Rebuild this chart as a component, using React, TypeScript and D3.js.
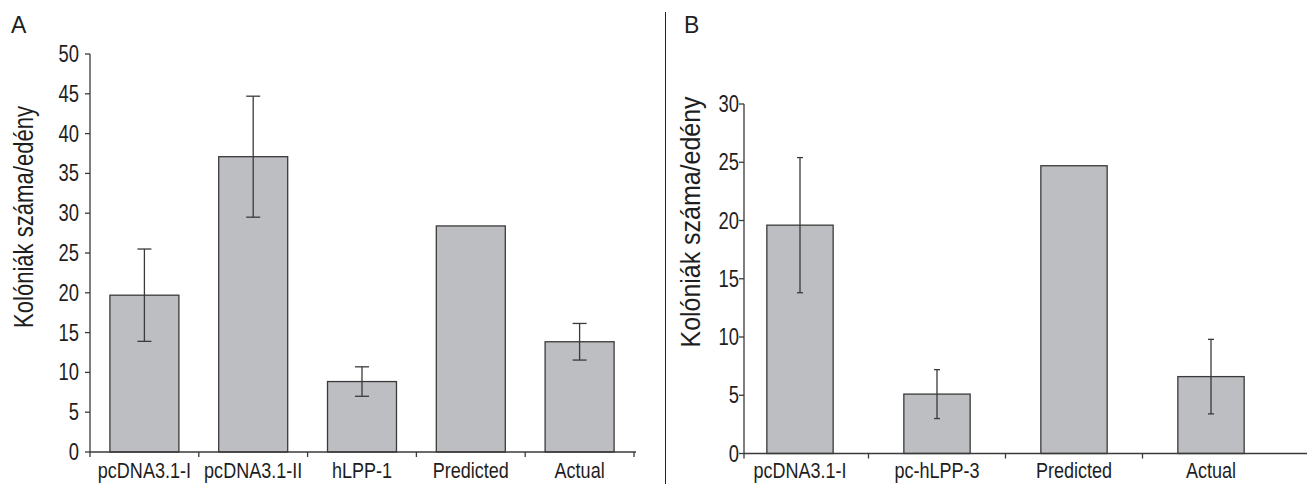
import React from "react";
import * as d3 from "d3";

const catsA = ["pcDNA3.1-I", "pcDNA3.1-II", "hLPP-1", "Predicted", "Actual"];
const valsA = [19.7, 37.1, 8.85, 28.4, 13.85];
const errA = [5.8, 7.6, 1.85, 0, 2.3];
const ticksA = [0, 5, 10, 15, 20, 25, 30, 35, 40, 45, 50];

const catsB = ["pcDNA3.1-I", "pc-hLPP-3", "Predicted", "Actual"];
const valsB = [19.6, 5.1, 24.7, 6.6];
const errB = [5.8, 2.1, 0, 3.2];
const ticksB = [0, 5, 10, 15, 20, 25, 30];

const yLabel = "Kolóniák száma/edény";
const FONT = "'Liberation Sans', Arial, Helvetica, sans-serif";
const FILL = "#bdbec2";
const STROKE = "#3a3a3a";

function NText(props: {
  x: number;
  y: number;
  size: number;
  sx: number;
  anchor?: string;
  children: React.ReactNode;
}) {
  return (
    <text
      transform={`translate(${props.x},${props.y}) scale(${props.sx},1)`}
      textAnchor={props.anchor || "start"}
      fontSize={props.size}
      fill="#1e1e1e"
    >
      {props.children}
    </text>
  );
}

type PanelProps = {
  cats: string[];
  vals: number[];
  errs: number[];
  ticks: number[];
  yMax: number;
  yRange: [number, number];
  xRange: [number, number];
  padding: number;
  axisX: number;
  axisEnd: number;
  capW: number;
  lastTick: boolean;
  letter: string;
  letterX: number;
  labelX: number;
  labelY: number;
  labelLen: number;
  tickLabelX: number;
};

function Panel(p: PanelProps) {
  const y = d3.scaleLinear().domain([0, p.yMax]).range(p.yRange);
  const x = d3
    .scaleBand<string>()
    .domain(p.cats)
    .range(p.xRange)
    .paddingInner(p.padding)
    .paddingOuter(p.padding / 2);
  const step = x.step();
  const bw = x.bandwidth();
  const y0 = y(0);
  const gap = (step - bw) / 2;
  const boundaries = p.cats.slice(1).map((c) => (x(c) as number) - gap);
  const catTicks = [p.axisX, ...boundaries];
  if (p.lastTick) {
    catTicks.push((x(p.cats[p.cats.length - 1]) as number) + bw + gap);
  }
  return (
    <g fontFamily={FONT}>
      <text x={p.letterX} y={33} fontSize={23} fill="#1e1e1e">
        {p.letter}
      </text>
      <text
        transform={`translate(${p.labelX},${p.labelY}) rotate(-90)`}
        textAnchor="middle"
        fontSize={28}
        textLength={p.labelLen}
        lengthAdjust="spacingAndGlyphs"
        fill="#1e1e1e"
      >
        {yLabel}
      </text>
      {p.cats.map((c, i) => {
        const cx = (x(c) as number) + bw / 2;
        return (
          <g key={c + i}>
            <rect
              x={x(c)}
              y={y(p.vals[i])}
              width={bw}
              height={y0 - y(p.vals[i])}
              fill={FILL}
              stroke={STROKE}
              strokeWidth={1.3}
            />
            {p.errs[i] > 0 && (
              <g stroke={STROKE} strokeWidth={1.3}>
                <line x1={cx} x2={cx} y1={y(p.vals[i] + p.errs[i])} y2={y(p.vals[i] - p.errs[i])} />
                <line x1={cx - p.capW / 2} x2={cx + p.capW / 2} y1={y(p.vals[i] + p.errs[i])} y2={y(p.vals[i] + p.errs[i])} />
                <line x1={cx - p.capW / 2} x2={cx + p.capW / 2} y1={y(p.vals[i] - p.errs[i])} y2={y(p.vals[i] - p.errs[i])} />
              </g>
            )}
            <NText x={cx} y={478} size={22} sx={0.82} anchor="middle">
              {c}
            </NText>
          </g>
        );
      })}
      <g stroke={STROKE} strokeWidth={1.3}>
        <line x1={p.axisX} x2={p.axisX} y1={y(p.yMax)} y2={y0} />
        <line x1={p.axisX} x2={p.axisEnd} y1={y0} y2={y0} />
        {p.ticks.map((t) => (
          <line key={t} x1={p.axisX - 5} x2={p.axisX} y1={y(t)} y2={y(t)} />
        ))}
        {catTicks.map((tx, i) => (
          <line key={i} x1={tx} x2={tx} y1={y0} y2={y0 + 5} />
        ))}
      </g>
      {p.ticks.map((t) => (
        <NText key={t} x={p.tickLabelX} y={y(t) + 8} size={23} sx={0.8} anchor="end">
          {t}
        </NText>
      ))}
    </g>
  );
}

export default function App() {
  return (
    <svg
      width={1307}
      height={484}
      style={{ position: "absolute", left: 0, top: 0, background: "#fff" }}
    >
      <rect width={1307} height={484} fill="#fff" />
      <Panel
        cats={catsA}
        vals={valsA}
        errs={errA}
        ticks={ticksA}
        yMax={50}
        yRange={[452, 54]}
        xRange={[90, 634]}
        padding={0.366}
        axisX={90}
        axisEnd={636}
        capW={14}
        lastTick={true}
        letter="A"
        letterX={11}
        labelX={33}
        labelY={217}
        labelLen={222}
        tickLabelX={79}
      />
      <line x1={665.5} x2={665.5} y1={12} y2={484} stroke="#222" strokeWidth={1} />
      <Panel
        cats={catsB}
        vals={valsB}
        errs={errB}
        ticks={ticksB}
        yMax={30}
        yRange={[453.5, 104]}
        xRange={[731.5, 1279.5]}
        padding={0.516}
        axisX={744}
        axisEnd={1307}
        capW={6}
        lastTick={false}
        letter="B"
        letterX={684}
        labelX={700}
        labelY={222}
        labelLen={251}
        tickLabelX={739}
      />
    </svg>
  );
}
